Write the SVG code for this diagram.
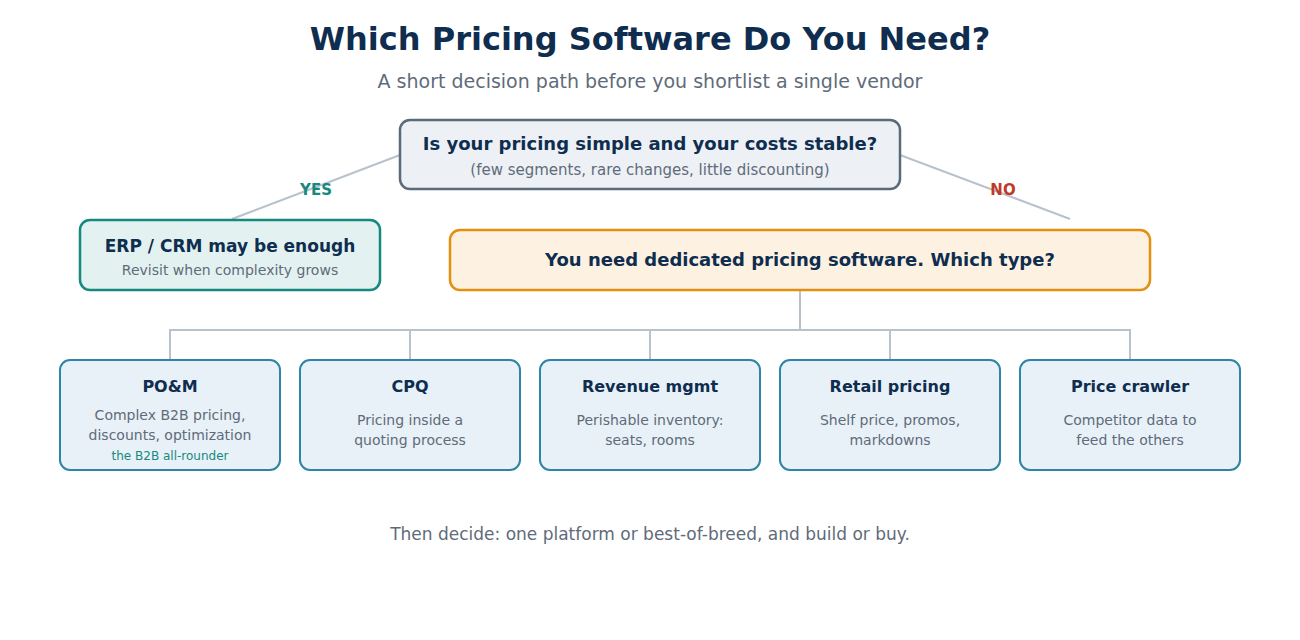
<svg xmlns="http://www.w3.org/2000/svg" width="1300" height="640" viewBox="0 0 1300 640">
<style>
text{font-family:"DejaVu Sans",Verdana,sans-serif;text-anchor:middle}
.t{font-weight:bold;fill:#0f2d4f}
.s{fill:#5f6b7a}
.cat rect{fill:#e8f1f7;stroke:#2e84a8;stroke-width:2}
.cat .t{font-size:16px}
.cat .s{font-size:14px}
.ln{stroke:#b8c2cc;stroke-width:2;fill:none}
</style>
<rect width="1300" height="640" fill="#ffffff"/>
<text x="650" y="50" class="t" style="font-size:32px">Which Pricing Software Do You Need?</text>
<text x="650" y="88" class="s" style="font-size:19px">A short decision path before you shortlist a single vendor</text>

<g id="connectors">
<line class="ln" x1="400" y1="155" x2="232" y2="219"/>
<line class="ln" x1="900" y1="155" x2="1070" y2="219"/>
<path class="ln" d="M800 290V330M170 360V330H1130V360M410 330V360M650 330V360M890 330V360"/>
<text x="316" y="195" style="font-size:15px;font-weight:bold;fill:#16897e">YES</text>
<text x="1003" y="195" style="font-size:15px;font-weight:bold;fill:#c0392b">NO</text>
</g>

<g id="question">
<rect x="400" y="120" width="500" height="69" rx="10" fill="#edf1f5" stroke="#5b6a7a" stroke-width="2.5"/>
<text x="650" y="150" class="t" style="font-size:18px">Is your pricing simple and your costs stable?</text>
<text x="650" y="175" class="s" style="font-size:15px">(few segments, rare changes, little discounting)</text>
</g>

<g id="erp">
<rect x="80" y="220" width="300" height="70" rx="10" fill="#e3f2f0" stroke="#16897e" stroke-width="2.5"/>
<text x="230" y="252" class="t" style="font-size:17px">ERP / CRM may be enough</text>
<text x="230" y="275" class="s" style="font-size:14px">Revisit when complexity grows</text>
</g>

<g id="dedicated">
<rect x="450" y="230" width="700" height="60" rx="10" fill="#fdf2e2" stroke="#e38f10" stroke-width="2.5"/>
<text x="800" y="266" class="t" style="font-size:18px">You need dedicated pricing software. Which type?</text>
</g>

<g id="pom" class="cat">
<rect x="60" y="360" width="220" height="110" rx="10"/>
<text x="170" y="392" class="t">PO&amp;M</text>
<text x="170" y="420" class="s">Complex B2B pricing,</text>
<text x="170" y="440" class="s">discounts, optimization</text>
<text x="170" y="460" style="font-size:12px;fill:#16897e">the B2B all-rounder</text>
</g>
<g id="cpq" class="cat">
<rect x="300" y="360" width="220" height="110" rx="10"/>
<text x="410" y="392" class="t">CPQ</text>
<text x="410" y="425" class="s">Pricing inside a</text>
<text x="410" y="445" class="s">quoting process</text>
</g>
<g id="revenue" class="cat">
<rect x="540" y="360" width="220" height="110" rx="10"/>
<text x="650" y="392" class="t">Revenue mgmt</text>
<text x="650" y="425" class="s">Perishable inventory:</text>
<text x="650" y="445" class="s">seats, rooms</text>
</g>
<g id="retail" class="cat">
<rect x="780" y="360" width="220" height="110" rx="10"/>
<text x="890" y="392" class="t">Retail pricing</text>
<text x="890" y="425" class="s">Shelf price, promos,</text>
<text x="890" y="445" class="s">markdowns</text>
</g>
<g id="crawler" class="cat">
<rect x="1020" y="360" width="220" height="110" rx="10"/>
<text x="1130" y="392" class="t">Price crawler</text>
<text x="1130" y="425" class="s">Competitor data to</text>
<text x="1130" y="445" class="s">feed the others</text>
</g>

<text x="650" y="540" class="s" style="font-size:17px">Then decide: one platform or best-of-breed, and build or buy.</text>
</svg>
